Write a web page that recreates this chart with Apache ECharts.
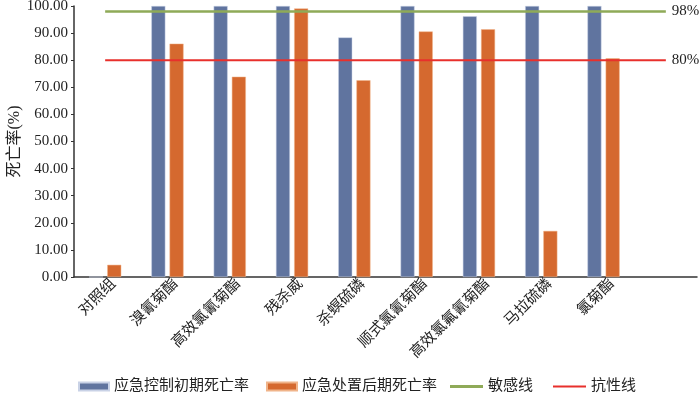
<!DOCTYPE html>
<html><head><meta charset="utf-8">
<script src="https://cdn.jsdelivr.net/npm/echarts@6/dist/echarts.min.js"></script>
<style>html,body{margin:0;padding:0;background:#fff}#c{width:700px;height:395px}</style>
</head><body><div id="c"></div>
<script>
const categories = ['对照组','溴氰菊酯','高效氯氰菊酯','残杀威','杀螟硫磷','顺式氯氰菊酯','高效氯氟氰菊酯','马拉硫磷','氯菊酯',''];
const earlyRate = [0, 100, 100, 100, 88.4, 100, 96.2, 100, 100, null];
const lateRate = [4.5, 86.1, 73.9, 99.1, 72.6, 90.6, 91.4, 17.0, 80.7, null];
const sensitiveLine = [98, 98, 98, 98, 98, 98, 98, 98, 98, 98];
const resistantLine = [80, 80, 80, 80, 80, 80, 80, 80, 80, 80];
const yTicks = {min: 0, max: 100, interval: 10};

const FONT = '"Liberation Serif", "Noto Sans CJK SC", serif';
const legendText = {fontFamily: FONT, fontSize: 15, color: '#222'};
function mkLegend(name, left, w, h, top) {
  return {top: top, left: left, itemWidth: w, itemHeight: h, itemGap: 0, padding: 0,
    textStyle: legendText, data: [{name: name, icon: 'rect'}]};
}
const chart = echarts.init(document.getElementById('c'));
chart.setOption({
  animation: false,
  textStyle: {fontFamily: FONT, color: '#222'},
  grid: {left: 74, right: 3, top: 6, bottom: 118, containLabel: false, outerBoundsMode: 'none'},
  legend: [
    mkLegend('应急控制初期死亡率', 78, 30, 8, 379),
    mkLegend('应急处置后期死亡率', 266, 30, 8, 379),
    mkLegend('敏感线', 450, 33, 3, 379),
    mkLegend('抗性线', 553, 33, 2, 379)
  ],
  xAxis: {
    type: 'category', data: categories,
    axisLine: {lineStyle: {color: '#333', width: 1.5}},
    axisTick: {show: false},
    axisLabel: {rotate: 45, interval: 0, fontSize: 15, color: '#222', fontFamily: FONT,
      margin: 13, padding: [0, -12, 0, 0]}
  },
  yAxis: {
    type: 'value', min: yTicks.min, max: yTicks.max, interval: yTicks.interval,
    name: '死亡率(%)', nameLocation: 'middle', nameGap: 51, nameRotate: 90, nameMoveOverlap: false,
    nameTextStyle: {fontSize: 16, color: '#222', fontFamily: FONT},
    splitLine: {show: false},
    axisLine: {show: true, lineStyle: {color: '#333', width: 1.5}},
    axisTick: {show: true, length: 3, lineStyle: {color: '#333'}},
    axisLabel: {fontSize: 15, color: '#222', fontFamily: FONT, margin: 6,
      formatter: v => v.toFixed(2)}
  },
  series: [
    {name: '应急控制初期死亡率', type: 'bar', data: earlyRate, barWidth: 14, barGap: '30%',
      itemStyle: {color: '#60749F', borderColor: '#c9d2e6', borderWidth: 0.5}},
    {name: '应急处置后期死亡率', type: 'bar', data: lateRate, barWidth: 14,
      itemStyle: {color: '#D5692F', borderColor: '#f0b48a', borderWidth: 0.5}},
    {name: '敏感线', type: 'line', data: sensitiveLine, symbol: 'none',
      lineStyle: {color: '#8FAA58', width: 2.5}, itemStyle: {color: '#8FAA58'},
      endLabel: {show: true, formatter: '98%', fontSize: 15, color: '#222', fontFamily: FONT, distance: 6}},
    {name: '抗性线', type: 'line', data: resistantLine, symbol: 'none',
      lineStyle: {color: '#E8302C', width: 2}, itemStyle: {color: '#E8302C'},
      endLabel: {show: true, formatter: '80%', fontSize: 15, color: '#222', fontFamily: FONT, distance: 6}}
  ]
});
</script></body></html>
